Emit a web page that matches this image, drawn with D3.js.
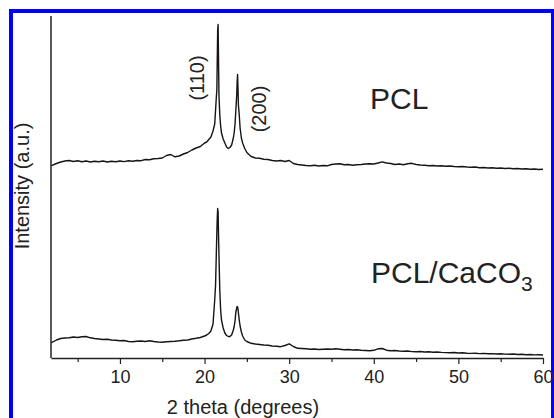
<!DOCTYPE html>
<html>
<head>
<meta charset="utf-8">
<script src="https://cdn.jsdelivr.net/npm/d3@7"></script>
<style>
  body { margin: 0; background: #fff; }
  svg { display: block; font-family: "Liberation Sans", Arial, sans-serif; }
</style>
</head>
<body>
<svg id="chart" width="554" height="418"></svg>
<script>
// 2 theta grid (degrees), finer around the (110) and (200) reflections
var theta = [
  1.9, 2.5, 3.0, 3.5, 4.0, 4.5, 5.0, 5.5, 6.0, 6.5, 7.0, 7.5, 8.0, 8.5, 9.0, 9.5,
  10.0, 10.5, 11.0, 11.5, 12.0, 12.5, 13.0, 13.5, 14.0, 14.5, 15.0, 15.5, 16.0, 16.5,
  17.0, 17.5, 18.0, 18.5, 19.0, 19.5,
  20.0, 20.25, 20.5, 20.75, 21.0, 21.2, 21.3, 21.4, 21.45, 21.5, 21.55, 21.6, 21.65,
  21.7, 21.8, 21.9, 22.0, 22.2, 22.4, 22.6, 22.8, 23.0, 23.2, 23.4, 23.5, 23.6, 23.7,
  23.8, 23.85, 23.9, 23.95, 24.0, 24.1, 24.2, 24.35, 24.5, 24.75, 25.0,
  25.5, 26.0, 26.5, 27.0, 27.5, 28.0, 28.5, 29.0, 29.5, 30.0, 30.5, 31.0, 31.5, 32.0,
  32.5, 33.0, 33.5, 34.0, 34.5, 35.0, 35.5, 36.0, 36.5, 37.0, 37.5, 38.0, 38.5, 39.0,
  39.5, 40.0, 40.5, 41.0, 41.5, 42.0, 42.5, 43.0, 43.5, 44.0, 44.5, 45.0, 45.5, 46.0,
  46.5, 47.0, 47.5, 48.0, 48.5, 49.0, 49.5, 50.0, 50.5, 51.0, 51.5, 52.0, 52.5, 53.0,
  53.5, 54.0, 54.5, 55.0, 55.5, 56.0, 56.5, 57.0, 57.5, 58.0, 58.5, 59.0, 59.5, 60.0
];

// PCL pattern (stacked above the composite)
var pcl = [
  1923, 1945, 1960, 1970, 1975, 1965, 1972, 1962, 1970, 1960, 1967, 1962, 1970, 1960, 1968, 1962,
  1970, 1964, 1972, 1967, 1975, 1973, 1985, 1982, 1992, 1995, 2000, 2025, 2035, 2012,
  2020, 2040, 2055, 2080, 2100, 2115,
  2150, 2160, 2185, 2210, 2270, 2340, 2480, 2620, 2680, 2980, 3280, 3335, 2980,
  2630, 2430, 2320, 2250, 2190, 2150, 2110, 2095, 2105, 2130, 2200, 2250, 2340, 2480,
  2630, 2760, 2835, 2700, 2530, 2430, 2300, 2200, 2150, 2095, 2055,
  2015, 2000, 1997, 1988, 1985, 1975, 1970, 1975, 1965, 1975, 1945, 1935, 1930, 1925,
  1922, 1927, 1920, 1925, 1922, 1935, 1940, 1942, 1932, 1935, 1928, 1932, 1935, 1940,
  1942, 1940, 1950, 1962, 1950, 1945, 1935, 1940, 1932, 1942, 1947, 1935, 1930, 1927,
  1922, 1925, 1920, 1922, 1918, 1920, 1915, 1912, 1915, 1910, 1907, 1910, 1903, 1905,
  1900, 1902, 1898, 1900, 1895, 1897, 1892, 1895, 1890, 1892, 1888, 1890, 1885, 1887
];

// PCL/CaCO3 pattern
var composite = [
  153, 180, 195, 200, 202, 210, 205, 212, 215, 202, 195, 190, 185, 187, 180, 177,
  172, 175, 165, 162, 167, 170, 165, 172, 165, 160, 157, 162, 165, 168,
  172, 177, 180, 190, 197, 205,
  220, 230, 245, 270, 340, 580, 730, 1080, 1250, 1400, 1495, 1460, 1230,
  1030, 680, 480, 380, 300, 250, 225, 215, 215, 230, 280, 315, 370, 460,
  500, 515, 512, 490, 450, 380, 320, 260, 220, 180, 165,
  147, 140, 135, 130, 127, 120, 117, 113, 125, 142, 115, 97, 95, 92,
  88, 90, 85, 88, 90, 87, 92, 87, 82, 85, 80, 82, 77, 75,
  72, 77, 92, 95, 78, 72, 75, 70, 67, 70, 64, 62, 65, 60,
  62, 57, 60, 56, 54, 52, 55, 50, 52, 48, 46, 48, 44, 46,
  42, 44, 40, 42, 39, 37, 40, 35, 37, 33, 35, 31, 33, 30
];

var majorTicks = [10, 20, 30, 40, 50, 60];
var minorTicks = [5, 15, 25, 35, 45, 55];

var svg = d3.select("#chart");

// blue frame round the figure
svg.append("rect")
  .attr("x", 11).attr("y", 11)
  .attr("width", 542).attr("height", 430)
  .attr("fill", "none")
  .attr("stroke", "#0000ff")
  .attr("stroke-width", 4);

// NB: "top" is taken by window.top, so plotTop etc.
var plotLeft = 51, plotRight = 543, plotTop = 16, plotBottom = 358;

var x = d3.scaleLinear().domain([1.85, 60]).range([plotLeft, plotRight]);
var y = d3.scaleLinear().domain([0, 3420]).range([plotBottom, plotTop]);

// x axis, ticks outside
svg.append("g")
  .attr("transform", "translate(0," + plotBottom + ")")
  .call(d3.axisBottom(x).tickValues(minorTicks).tickSize(4).tickFormat(""))
  .call(function(g) { g.select(".domain").remove(); })
  .selectAll("line").attr("stroke", "#222").attr("stroke-width", 1.2);

var xAxis = svg.append("g")
  .attr("transform", "translate(0," + plotBottom + ")")
  .call(d3.axisBottom(x).tickValues(majorTicks).tickSize(6).tickSizeOuter(0).tickFormat(d3.format("d")));
xAxis.select(".domain").attr("stroke", "#222").attr("stroke-width", 1.5);
xAxis.selectAll(".tick line").attr("stroke", "#222").attr("stroke-width", 1.2);
xAxis.selectAll(".tick text")
  .attr("y", 12)
  .attr("fill", "#222")
  .style("font-size", "18px")
  .style("font-family", "'Liberation Sans', Arial, sans-serif");

// y axis: bare line, no ticks
svg.append("line")
  .attr("x1", plotLeft).attr("x2", plotLeft)
  .attr("y1", plotTop).attr("y2", plotBottom)
  .attr("stroke", "#222").attr("stroke-width", 1.5);

var line = d3.line()
  .x(function(d, i) { return x(theta[i]); })
  .y(function(d) { return y(d); });

[pcl, composite].forEach(function(s) {
  svg.append("path")
    .datum(s)
    .attr("d", line)
    .attr("fill", "none")
    .attr("stroke", "#151515")
    .attr("stroke-width", 1.4)
    .attr("stroke-linejoin", "round");
});

// axis titles
svg.append("text")
  .attr("x", 243).attr("y", 414)
  .attr("text-anchor", "middle")
  .attr("fill", "#222")
  .style("font-size", "20px")
  .text("2 theta (degrees)");

svg.append("text")
  .attr("transform", "translate(29,186) rotate(-90)")
  .attr("text-anchor", "middle")
  .attr("fill", "#222")
  .style("font-size", "20px")
  .text("Intensity (a.u.)");

// reflection labels
svg.append("text")
  .attr("transform", "translate(204,78) rotate(-90)")
  .attr("text-anchor", "middle")
  .attr("fill", "#222")
  .style("font-size", "20px")
  .text("(110)");

svg.append("text")
  .attr("transform", "translate(266,109) rotate(-90)")
  .attr("text-anchor", "middle")
  .attr("fill", "#222")
  .style("font-size", "20px")
  .text("(200)");

// sample labels
svg.append("text")
  .attr("x", 370).attr("y", 109)
  .attr("fill", "#222")
  .style("font-size", "30px")
  .text("PCL");

var comp = svg.append("text")
  .attr("x", 371).attr("y", 283)
  .attr("fill", "#222")
  .style("font-size", "30px");
comp.append("tspan").text("PCL/CaCO");
comp.append("tspan").attr("dy", 8).style("font-size", "21px").text("3");
</script>
</body>
</html>
